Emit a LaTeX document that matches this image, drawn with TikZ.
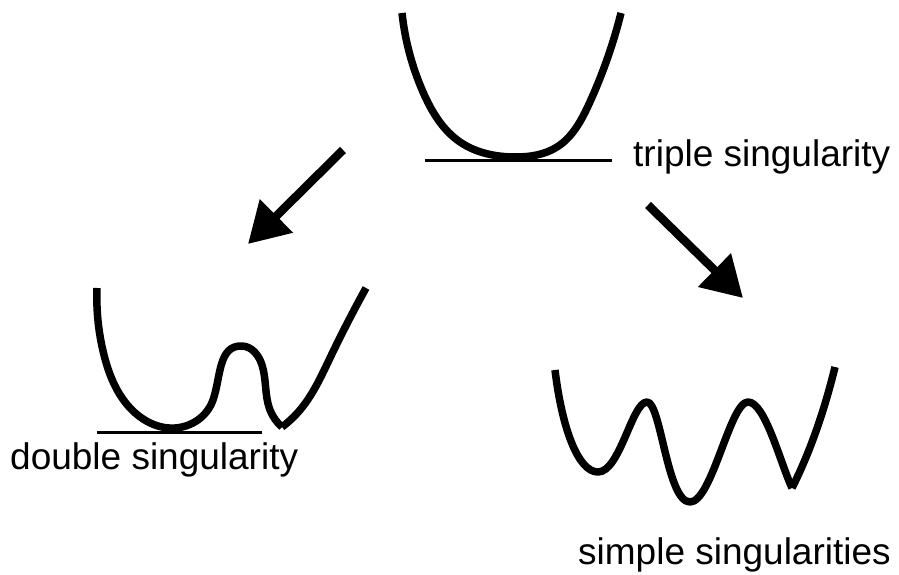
\documentclass[tikz,border=0pt]{standalone}
\usepackage{fontspec}
\setmainfont{Liberation Sans}
\usetikzlibrary{arrows.meta,hobby}
\begin{document}
\begin{tikzpicture}[x=1pt,y=-1pt,
  curve/.style={line width=7.5pt,line join=round},
  tangent/.style={line width=3pt},
  bigarrow/.style={line width=8.5pt,-{Triangle[length=40pt,width=45pt]}},
  lbl/.style={font=\fontsize{37}{42}\selectfont,inner sep=0pt,anchor=west}]
\useasboundingbox (0,0) rectangle (899,575);
% triple
\draw[tangent] (425,160) -- (612,160);
\draw[curve] (402,13) to[curve through={(423,92) (460,142) (515,157) (557,147) (589,104)}] (621,13);
\node[lbl] (t1) at (633,157) {triple singularity};
% double
\draw[tangent] (97,432) -- (262,432);
\draw[curve] (97,288) to[curve through={(104,355) (125,402) (175,428) (213,400) (242,346) (262,365) (270,410)}] (282,427);
\draw[curve] (282,427) to[curve through={(300,410) (330,358)}] (366,288);
\node[lbl] (t2) at (10,460) {double singularity};
% simple
\draw[curve] (555,370) .. controls (562,428) and (578,472) .. (598,472)
  .. controls (620,472) and (632,402) .. (647,402)
  .. controls (661,402) and (667,502) .. (690,502)
  .. controls (712,502) and (730,402) .. (748,402)
  .. controls (765,402) and (780,462) .. (792,488);
\draw[curve] (792,488) .. controls (810,452) and (824,412) .. (835,367);
\node[lbl] (t3) at (578,555) {simple singularities};
% arrows
\coordinate (a1s) at (343,150);
\coordinate (a1e) at (248,244);
\coordinate (a2s) at (648,205);
\coordinate (a2e) at (743,298);
\draw[bigarrow] (a1s) -- (a1e);
\draw[bigarrow] (a2s) -- (a2e);
\end{tikzpicture}
\end{document}
